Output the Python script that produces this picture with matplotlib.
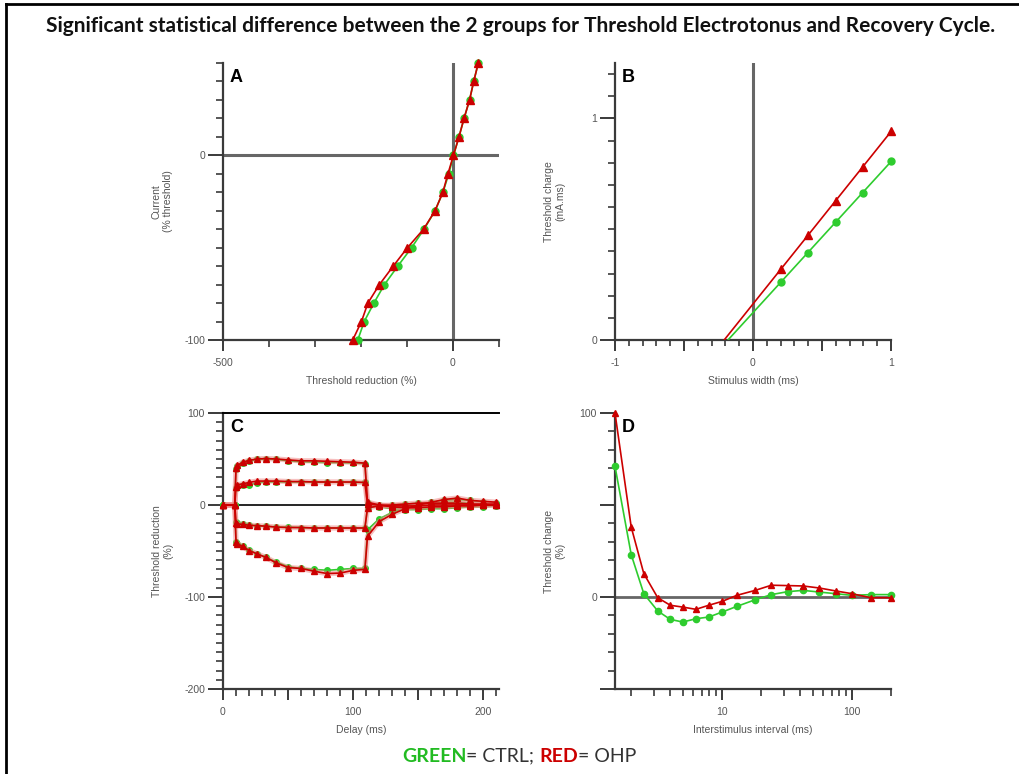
import numpy as np
import matplotlib
matplotlib.use("Agg")
import matplotlib.pyplot as plt
from matplotlib.ticker import MultipleLocator, FixedLocator, NullFormatter, FixedFormatter

# ---------------- data ----------------
# A: current-threshold relationship
iv_current = [50, 40, 30, 20, 10, 0, -10, -20, -30, -40, -50, -60, -70, -80, -90, -100]
iv_ctrl = [55, 45, 36, 24, 13, 1, -9, -22, -39, -63, -90, -120, -149, -172, -193, -207]
iv_ohp = [55, 45, 36, 24, 13, 1, -11, -22, -39, -64, -99, -130, -160, -185, -199, -218]

# B: charge-duration relationship
sd_width = [0.2, 0.4, 0.6, 0.8, 1.0]
sd_ctrl = [0.263, 0.394, 0.531, 0.665, 0.809]
sd_ohp = [0.320, 0.474, 0.627, 0.782, 0.944]

# C: threshold electrotonus
te_delay = [0, 9, 10, 11, 15, 20, 26, 33, 41, 50, 60, 70, 80, 90, 100, 109,
            111, 120, 130, 140, 150, 160, 170, 180, 190, 200, 210]
ted40_ctrl = [0, 0, 39, 42, 45.5, 48, 49.5, 50, 49.5, 48, 47, 46.5, 46, 46, 45.5, 45,
              2, -2, -4, -5, -5, -4, -4, -3, -2, -2, -1]
ted40_ohp = [0, 0, 40, 43, 46.5, 48.5, 50, 50.5, 50, 49, 48, 48, 47.5, 47, 46.5, 45.5,
             3, 0, -2, -3, -3, -2, -2, -1, -1, 0, 0]
ted20_ctrl = [0, 0, 19, 21, 22, 22, 24, 25, 25, 25, 25, 25, 25, 25, 24.5, 24.5,
              1, 0, -1, -1, -1, 0, 0, 0, 0, 0, 0]
ted20_ohp = [0, 0, 20, 22, 23, 24.5, 26, 26, 26, 25.5, 25.5, 25, 25, 25, 25, 24.5,
             1, 0, -1, -1, -1, 0, 0, 0, 0, 0, 0]
teh20_ctrl = [0, 0, -19, -20, -21, -22, -22.5, -23, -24, -24, -24.5, -25, -25, -25, -25, -25,
              -3, -1, 0, 1, 2, 2, 3, 3, 2, 1, 1]
teh20_ohp = [0, 0, -19.5, -20.5, -21, -22, -22.5, -23, -24, -24.5, -24.5, -25, -25, -25, -25, -25,
             -3, -1, 0, 1, 2, 2, 2, 2, 1, 1, 1]
teh40_ctrl = [0, 0, -40, -42, -45, -49, -53, -57, -62, -67, -69, -70, -71, -70, -69, -69,
              -27, -15, -8, -3, 0, 3, 5, 6, 5, 3, 2]
teh40_ohp = [0, 0, -40.5, -42, -45, -49.5, -53, -57, -63, -68, -69, -72, -74.5, -74, -71, -70,
             -34, -18, -10, -4, 0, 3, 6, 7.5, 5, 4, 3]

# D: recovery cycle
rc_interval = [1.5, 2, 2.5, 3.2, 4, 5, 6.3, 7.9, 10, 13, 18, 24, 32, 42, 56, 75, 100, 140, 200]
rc_ctrl = [71, 23, 1.8, -7.6, -12.2, -13.6, -11.8, -10.9, -8.2, -5.1, -1.5, 1.3, 2.9, 3.6,
           2.7, 1.8, 0.9, 1.3, 1.3]
rc_ohp = [100, 38, 12.7, -0.4, -4.5, -5.5, -6.7, -4.5, -2.4, 0.9, 3.6, 6.4, 6.2, 6.0,
          4.9, 3.3, 1.8, -0.4, -0.4]

# ---------------- style ----------------
GREEN = "#2ecc2e"
RED = "#cc0000"
AXC = "#3a3a3a"
TXT = "#555555"
ZERO = "#666666"
FONT = "Liberation Sans"

plt.rcParams["font.family"] = FONT
plt.rcParams["axes.unicode_minus"] = False

W, H = 1020, 774
fig = plt.figure(figsize=(W / 100, H / 100), dpi=100)


def px_axes(left, top, right, bottom):
    return fig.add_axes([left / W, 1 - bottom / H, (right - left) / W, (bottom - top) / H])


def style(ax, letter, ylabel, xlabel, ylab_x):
    for s in ("top", "right"):
        ax.spines[s].set_visible(False)
    for s in ("left", "bottom"):
        ax.spines[s].set_color(AXC)
        ax.spines[s].set_linewidth(1.6)
    ax.tick_params(which="major", length=11, width=1.4, color=AXC,
                   labelsize=7.5, labelcolor=TXT, pad=2)
    ax.tick_params(which="minor", length=5, width=1.2, color=AXC)
    ax.tick_params(axis="x", which="major", length=8, pad=5)
    ax.tick_params(axis="x", which="minor", length=5)
    ax.text(0.025, 0.98, letter, transform=ax.transAxes, ha="left", va="top",
            fontsize=13, fontweight="bold", color="black")
    ax.set_xlabel(xlabel, fontsize=7.5, color=TXT, labelpad=6)
    ax.set_ylabel(ylabel, fontsize=7.5, color=TXT)
    ax.yaxis.set_label_coords(ylab_x, 0.5)
    ax.set_facecolor("none")


def series(ax, x, y, color, marker, ms, halo=None, z=3):
    if halo:
        ax.plot(x, y, color=halo, lw=3.8, alpha=0.5, zorder=z, solid_capstyle="round")
    ax.plot(x, y, color=color, lw=1.2, marker=marker, ms=ms, mec=color, mfc=color,
            zorder=z + 0.5, clip_on=False)


LAB_X = -0.18

# ---- A ----
axA = px_axes(223, 63, 499, 340)
style(axA, "A", "Current\n(% threshold)", "Threshold reduction (%)", LAB_X)
axA.set_xlim(-500, 100)
axA.set_ylim(-100, 50)
axA.axhline(0, color=ZERO, lw=2.2, zorder=1)
axA.axvline(0, color=ZERO, lw=2.2, zorder=1)
series(axA, iv_ctrl, iv_current, GREEN, "o", 5)
series(axA, iv_ohp, iv_current, RED, "^", 5.5)
axA.xaxis.set_major_locator(FixedLocator([-500, 0]))
axA.xaxis.set_minor_locator(MultipleLocator(100))
axA.yaxis.set_major_locator(FixedLocator([-100, 0]))
axA.yaxis.set_minor_locator(MultipleLocator(10))

# ---- B ----
axB = px_axes(615, 63, 891, 340)
style(axB, "B", "Threshold charge\n(mA.ms)", "Stimulus width (ms)", LAB_X)
axB.set_xlim(-1, 1)
axB.set_ylim(0, 1.25)
axB.axvline(0, color=ZERO, lw=2.2, zorder=1)
for yv, col, mk, ms in ((sd_ctrl, GREEN, "o", 5), (sd_ohp, RED, "^", 5.5)):
    slope, icpt = np.polyfit(sd_width, yv, 1)
    xs = np.array([-icpt / slope, 1.0])
    axB.plot(xs, slope * xs + icpt, color=col, lw=1.2, zorder=3)
    axB.plot(sd_width, yv, ls="none", marker=mk, ms=ms, color=col, zorder=4, clip_on=False)
axB.xaxis.set_major_locator(FixedLocator([-1, -0.5, 0, 0.5, 1]))
axB.xaxis.set_major_formatter(FixedFormatter(["-1", "", "0", "", "1"]))
axB.xaxis.set_minor_locator(MultipleLocator(0.1))
axB.tick_params(axis="x", which="minor", length=4)
axB.yaxis.set_major_locator(FixedLocator([0, 1]))
axB.yaxis.set_major_formatter(FixedFormatter(["0", "1"]))
axB.yaxis.set_minor_locator(MultipleLocator(0.1))

# ---- C ----
axC = px_axes(223, 413, 499, 689)
style(axC, "C", "Threshold reduction\n(%)", "Delay (ms)", LAB_X)
axC.spines["top"].set_visible(True)
axC.spines["top"].set_color("black")
axC.spines["top"].set_linewidth(1.4)
axC.set_xlim(0, 212)
axC.set_ylim(-200, 100)
axC.axhline(0, color="black", lw=1.2, zorder=1)
for yv in (ted40_ctrl, ted20_ctrl, teh20_ctrl, teh40_ctrl):
    series(axC, te_delay, yv, GREEN, "o", 4, z=3)
for yv in (ted40_ohp, ted20_ohp, teh20_ohp, teh40_ohp):
    series(axC, te_delay, yv, RED, "^", 4.5, halo="#f08080", z=5)
axC.xaxis.set_major_locator(FixedLocator([0, 50, 100, 150, 200]))
axC.xaxis.set_major_formatter(FixedFormatter(["0", "", "100", "", "200"]))
axC.xaxis.set_minor_locator(MultipleLocator(10))
axC.yaxis.set_major_locator(FixedLocator([-200, -100, 0, 100]))
axC.yaxis.set_minor_locator(MultipleLocator(10))

# ---- D ----
axD = px_axes(615, 413, 891, 689)
style(axD, "D", "Threshold change\n(%)", "Interstimulus interval (ms)", LAB_X)
axD.set_xscale("log")
axD.set_xlim(1.5, 200)
axD.set_ylim(-50, 100)
axD.axhline(0, color=ZERO, lw=2.0, zorder=1)
series(axD, rc_interval, rc_ctrl, GREEN, "o", 4.5)
series(axD, rc_interval, rc_ohp, RED, "^", 5)
axD.xaxis.set_major_locator(FixedLocator([10, 100]))
axD.xaxis.set_major_formatter(FixedFormatter(["10", "100"]))
axD.xaxis.set_minor_locator(FixedLocator([2, 3, 4, 5, 6, 7, 8, 9, 20, 30, 40, 50, 60, 70, 80, 90, 200]))
axD.xaxis.set_minor_formatter(NullFormatter())
axD.yaxis.set_major_locator(FixedLocator([-50, 0, 50, 100]))
axD.yaxis.set_major_formatter(FixedFormatter(["", "0", "", "100"]))
axD.yaxis.set_minor_locator(MultipleLocator(10))

# ---- title, frame and colour key ----
fig.text(0.51, 1 - 26 / H, "Significant statistical difference between the 2 groups for "
         "Threshold Electrotonus and Recovery Cycle.",
         ha="center", va="center", fontsize=15, fontweight="bold", family="Lato",
         color="#111111")

fig.add_artist(plt.Line2D([6 / W, 6 / W], [0, 1 - 4 / H], color="black", lw=2,
                          transform=fig.transFigure))
fig.add_artist(plt.Line2D([6 / W, 1], [1 - 4 / H, 1 - 4 / H], color="black", lw=2,
                          transform=fig.transFigure))

key_parts = [("GREEN", "#22bb22", "bold"), ("= CTRL; ", "#333333", "normal"),
             ("RED", "#cc0000", "bold"), ("= OHP", "#333333", "normal")]
renderer = fig.canvas.get_renderer()
x_cursor = 402
for txt, col, wt in key_parts:
    t = fig.text(x_cursor / W, 1 - 756 / H, txt, ha="left", va="center", fontsize=14,
                 fontweight=wt, color=col, family="Lato")
    bb = t.get_window_extent(renderer=renderer)
    x_cursor += bb.width

fig.savefig("out.png", dpi=100)
